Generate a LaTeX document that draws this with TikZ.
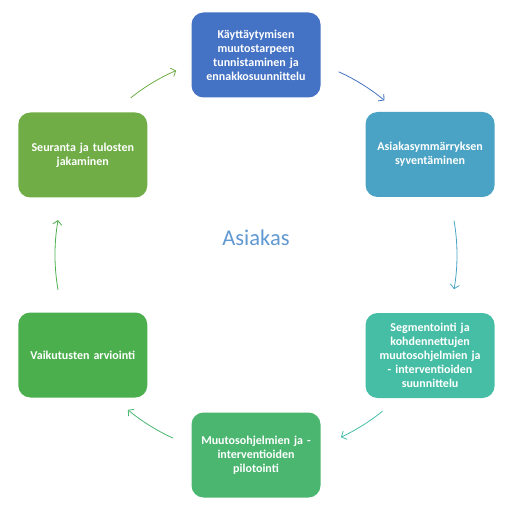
\documentclass[tikz,border=0pt]{standalone}
\usepackage{fontspec}
\setmainfont{Carlito}
\usetikzlibrary{arrows.meta,calc}
\definecolor{cycblue} {RGB}{68 ,114,196}
\definecolor{cycaqua} {RGB}{74 ,163,196}
\definecolor{cycteal} {RGB}{70 ,190,165}
\definecolor{cycgreen}{RGB}{74 ,182,112}
\definecolor{cycleaf} {RGB}{76 ,175, 78}
\definecolor{cycolive}{RGB}{112,173, 71}
\definecolor{hubblue} {RGB}{96 ,152,210}

\begin{document}
\begin{tikzpicture}[
  x=1pt, y=1pt,
  every node/.style={align=center},
  box/.style={rounded corners=12pt, minimum width=129pt, minimum height=85pt, text width=122pt, text=white, font=\fontsize{12}{14}\selectfont\bfseries},
  arrow/.style={-{Straight Barb[length=4pt,width=9pt]}, line width=0.8pt}
]
  \useasboundingbox (0,0) rectangle (514,512);
  % Centre
  \coordinate (hub) at (256,257);
  \node (title) at ($(hub)+(0,17)$) [text=hubblue, font=\fontsize{22.5}{26}\selectfont] {Asiakas};

  % Steps
  \node (ident) [box, fill=cycblue] at ($(hub)+(90:200)$) {Käyttäytymisen\\muutostarpeen\\tunnistaminen ja\\ennakkosuunnittelu};
  \node (insight) [box, fill=cycaqua] at ($(hub)+(30:201)$) {Asiakasymmärryksen\\syventäminen};
  \node (segment) [box, fill=cycteal] at ($(hub)+(-30:201)$) {Segmentointi ja\\kohdennettujen\\muutosohjelmien ja\\- interventioiden\\suunnittelu};
  \node (pilot) [box, fill=cycgreen] at ($(hub)+(-90:200)$) {Muutosohjelmien ja -\\interventioiden\\pilotointi};
  \node (assess) [box, fill=cycleaf] at ($(hub)+(-150:200)$) {Vaikutusten arviointi};
  \node (follow) [box, fill=cycolive] at ($(hub)+(150:200)$) {Seuranta ja tulosten\\jakaminen};

  % Cycle arrows
  \foreach \mid/\half/\col in {58/7.7/cycblue, 0/9.8/cycaqua, -58/7/cycteal, -122/7.6/cycgreen, -180/10/cycleaf, -239/7.6/cycolive}
    \draw[arrow, \col] ($(hub)+(\mid+\half:201)$) arc[start angle=\mid+\half, end angle=\mid-\half, radius=201];
\end{tikzpicture}
\end{document}
